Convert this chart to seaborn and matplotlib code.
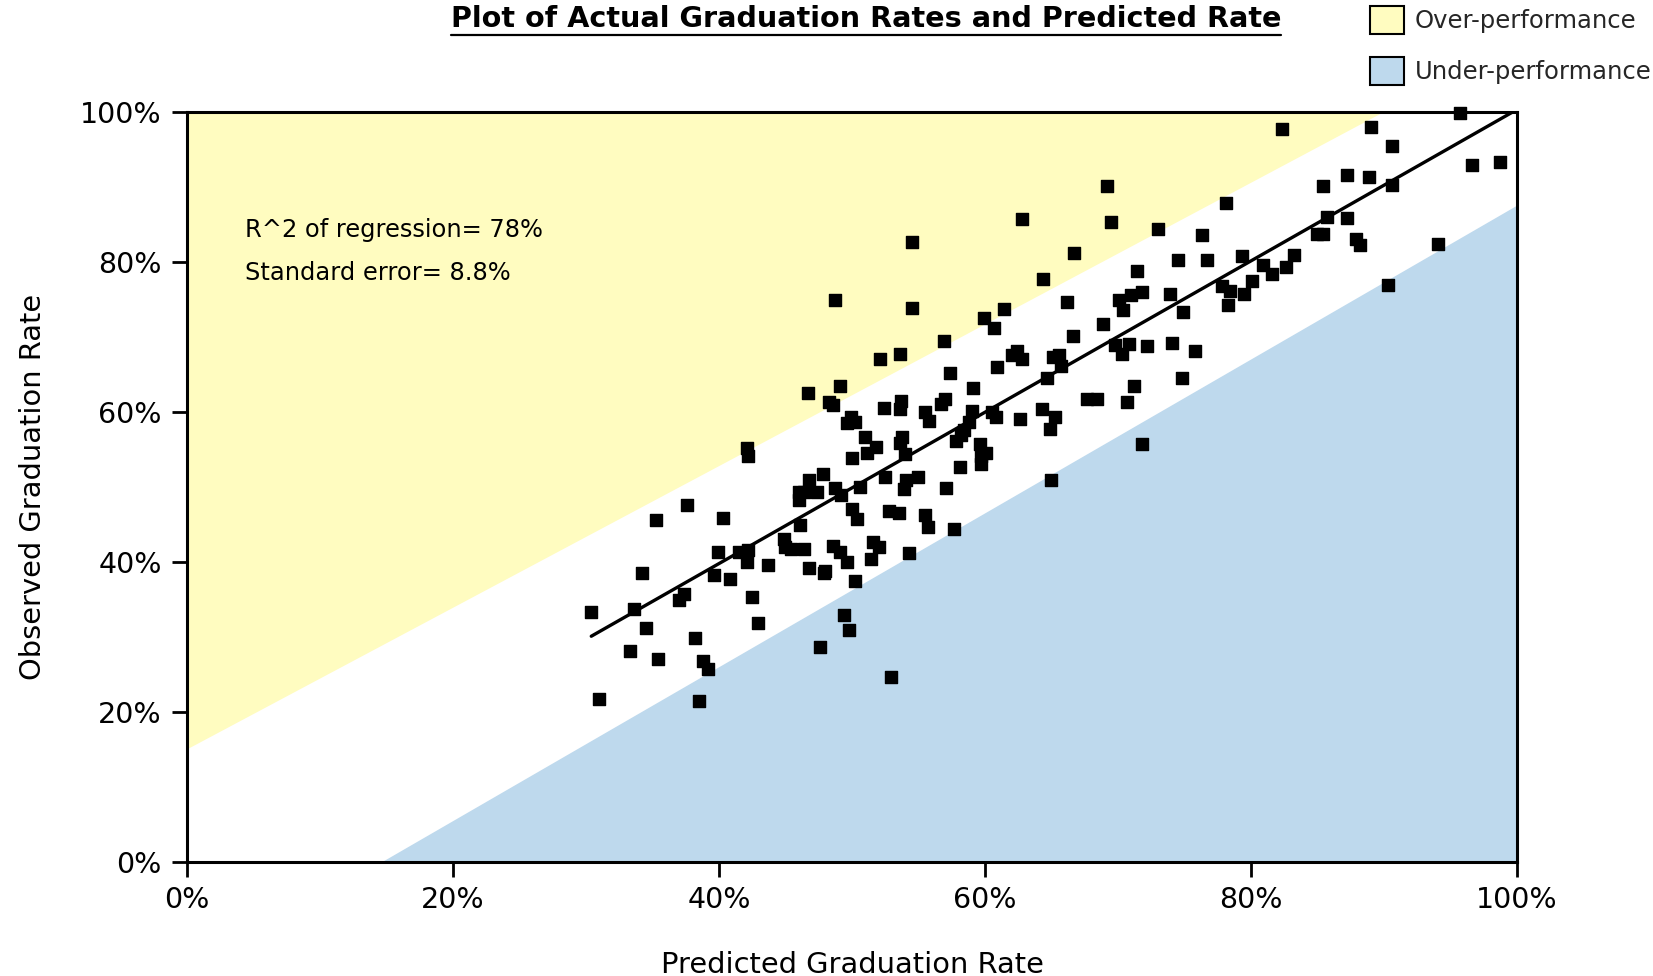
import numpy as np
import pandas as pd
import matplotlib
matplotlib.use("Agg")
import matplotlib.pyplot as plt
from matplotlib.lines import Line2D
from matplotlib.patches import Patch
from matplotlib.ticker import PercentFormatter
import seaborn as sns

# Predicted vs. observed graduation rates (percent), one entry per institution
predicted = [
    30.4, 31.0, 33.3, 33.6, 34.2, 34.5, 35.3, 35.4, 37.0, 37.4,
    37.6, 38.2, 38.5, 38.8, 39.2, 39.6, 39.9, 40.3, 40.8, 41.5,
    42.1, 42.2, 42.2, 42.1, 42.5, 42.9, 43.7, 44.9, 45.0, 45.4,
    46.0, 46.0, 46.1, 46.4, 46.4, 46.7, 46.8, 46.8, 47.4, 47.6,
    47.8, 47.9, 48.0, 48.3, 48.6, 48.7, 48.6, 48.7, 49.1, 49.2,
    49.1, 49.4, 49.6, 49.6, 49.8, 49.9, 50.0, 50.0, 50.2, 50.2,
    50.4, 50.6, 51.0, 51.1, 51.4, 51.6, 51.8, 52.0, 52.1, 52.4,
    52.5, 52.8, 52.9, 53.5, 53.6, 53.6, 53.6, 53.7, 53.8, 53.9,
    54.0, 54.1, 54.3, 54.5, 54.5, 55.0, 55.5, 55.5, 55.7, 55.8,
    56.7, 56.9, 57.0, 57.1, 57.4, 57.7, 57.8, 58.1, 58.2, 58.4,
    58.8, 59.0, 59.1, 59.6, 59.7, 59.7, 59.9, 60.1, 60.5, 60.7,
    60.8, 60.9, 61.4, 62.0, 62.4, 62.6, 62.8, 62.8, 64.3, 64.4,
    64.7, 64.9, 65.0, 65.1, 65.3, 65.6, 65.7, 66.2, 66.6, 66.7,
    67.7, 68.4, 68.9, 69.2, 69.5, 69.8, 70.1, 70.3, 70.4, 70.7,
    70.8, 71.0, 71.2, 71.4, 71.8, 71.8, 72.2, 73.0, 73.9, 74.1,
    74.5, 74.8, 74.9, 75.8, 76.3, 76.7, 77.8, 78.1, 78.3, 78.4,
    79.3, 79.5, 80.1, 80.9, 81.6, 82.3, 82.6, 83.2, 85.0, 85.4,
    85.4, 85.7, 87.2, 87.2, 87.9, 88.2, 89.0, 88.9, 90.3, 90.6,
    90.6, 94.1, 95.7, 96.6, 98.7,
]
observed = [
    33.3, 21.8, 28.1, 33.7, 38.5, 31.2, 45.6, 27.1, 35.0, 35.8,
    47.6, 29.9, 21.5, 26.8, 25.7, 38.3, 41.4, 45.9, 37.8, 41.4,
    55.2, 54.1, 41.6, 40.0, 35.4, 31.9, 39.6, 43.1, 42.0, 41.7,
    49.3, 48.3, 44.9, 49.3, 41.7, 62.5, 51.0, 39.2, 49.3, 28.7,
    51.7, 38.5, 38.8, 61.4, 61.0, 75.0, 42.1, 49.9, 63.5, 48.9,
    41.3, 33.0, 40.0, 58.6, 30.9, 59.3, 47.1, 53.9, 37.5, 58.7,
    45.8, 50.0, 56.7, 54.5, 40.4, 42.7, 55.3, 42.0, 67.1, 60.5,
    51.4, 46.8, 24.7, 46.6, 67.7, 60.4, 55.9, 61.5, 56.7, 49.7,
    54.4, 51.0, 41.2, 82.7, 73.9, 51.3, 60.0, 46.3, 44.7, 58.8,
    61.1, 69.5, 61.8, 49.9, 65.2, 44.4, 56.2, 52.7, 56.9, 57.6,
    58.7, 60.1, 63.2, 55.8, 54.2, 53.1, 72.6, 54.5, 60.0, 71.2,
    59.4, 66.0, 73.7, 67.6, 68.1, 59.1, 67.1, 85.7, 60.4, 77.7,
    64.5, 57.7, 51.0, 67.3, 59.3, 67.6, 66.2, 74.7, 70.2, 81.2,
    61.7, 61.8, 71.8, 90.2, 85.4, 69.0, 74.9, 67.8, 73.6, 61.4,
    69.1, 75.6, 63.5, 78.8, 76.0, 55.8, 68.8, 84.4, 75.8, 69.2,
    80.3, 64.5, 73.3, 68.1, 83.6, 80.3, 76.8, 87.9, 74.3, 76.1,
    80.8, 75.7, 77.5, 79.6, 78.4, 97.8, 79.4, 81.0, 83.7, 83.7,
    90.2, 86.0, 91.6, 85.9, 83.1, 82.3, 98.0, 91.4, 77.0, 95.5,
    90.3, 82.4, 99.9, 93.0, 93.4,
]

# Fitted regression line (observed on predicted)
fit_slope = 1.009
fit_intercept = -0.57
fit_x = [30.4, 100.0]

# Performance band boundaries (predicted %, observed %)
over_x = [0.0, 90.0, 0.0]
over_y = [15.0, 100.0, 100.0]
under_x = [14.7, 100.0, 100.0]
under_y = [0.0, 87.5, 0.0]

stats_lines = ["R^2 of regression= 78%", "Standard error= 8.8%"]
chart_title = "Plot of Actual Graduation Rates and Predicted Rate"
x_title = "Predicted Graduation Rate"
y_title = "Observed Graduation Rate"
band_labels = ["Over-performance", "Under-performance"]
tick_values = [0, 20, 40, 60, 80, 100]

over_color = "#FFFCC0"
under_color = "#BED9ED"

sns.set_theme(style="ticks")
plt.rcParams["font.family"] = ["DejaVu Sans"]

fig = plt.figure(figsize=(16.53, 9.76), dpi=100)
ax = fig.add_axes([0.1131, 0.1168, 0.8046, 0.7684])

# shaded performance bands
ax.fill(over_x, over_y, color=over_color, lw=0, zorder=0)
ax.fill(under_x, under_y, color=under_color, lw=0, zorder=0)

df = pd.DataFrame({"predicted": predicted, "observed": observed})
sns.scatterplot(data=df, x="predicted", y="observed", marker="s", s=72,
                color="black", edgecolor="black", linewidth=1.0,
                ax=ax, zorder=3, clip_on=False, legend=False)
ax.collections[-1].set_joinstyle("round")

fit_df = pd.DataFrame({"x": fit_x,
                       "y": [fit_intercept + fit_slope * v for v in fit_x]})
sns.lineplot(data=fit_df, x="x", y="y", color="black", linewidth=2.4,
             ax=ax, zorder=4)

ax.set_xlim(0, 100)
ax.set_ylim(0, 100)
ax.set_xticks(tick_values)
ax.set_yticks(tick_values)
ax.xaxis.set_major_formatter(PercentFormatter(decimals=0))
ax.yaxis.set_major_formatter(PercentFormatter(decimals=0))
ax.tick_params(direction="out", length=11, width=2.0, color="black",
               labelsize=20.5, labelcolor="black")
ax.tick_params(axis="x", pad=6)
ax.tick_params(axis="y", pad=7)
for sp in ax.spines.values():
    sp.set_visible(True)
    sp.set_color("black")
    sp.set_linewidth(2.2)
    sp.set_zorder(5)

ax.set_xlabel(x_title, fontsize=20.8, labelpad=27, color="black")
ax.set_ylabel(y_title, fontsize=20.8, labelpad=24, color="black")

ax.text(4.4, 84.3, stats_lines[0], fontsize=17.4, va="center", color="black")
ax.text(4.4, 78.5, stats_lines[1], fontsize=17.4, va="center", color="black")

handles = [Patch(facecolor=over_color, edgecolor="black", linewidth=1.5),
           Patch(facecolor=under_color, edgecolor="black", linewidth=1.5)]
fig.legend(handles=handles, labels=band_labels, loc="upper left",
           bbox_to_anchor=(0.829, 0.994), frameon=False, fontsize=17.5,
           handlelength=1.4, handleheight=1.4, handletextpad=0.42,
           labelspacing=0.95, borderpad=0, borderaxespad=0)

title_txt = fig.text(0.524, 0.981, chart_title, ha="center", va="center",
                     fontsize=20.6, fontweight="bold", color="black")

# underline the title
fig.canvas.draw()
bb = title_txt.get_window_extent()
W, H = fig.get_size_inches() * fig.dpi
uy = (bb.y0 - 2) / H
fig.add_artist(Line2D([bb.x0 / W, bb.x1 / W], [uy, uy],
                      transform=fig.transFigure, color="black", lw=1.6))

fig.savefig("out.png", dpi=100)
